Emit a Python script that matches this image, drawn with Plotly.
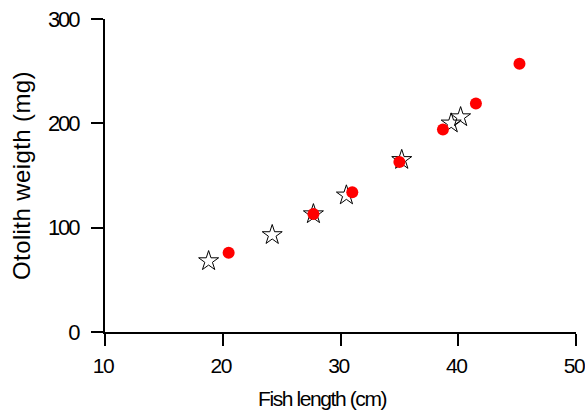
import plotly.graph_objects as go

# Data
star_length = [18.8, 24.2, 27.7, 30.5, 35.2, 39.4, 40.2]
star_weight = [68, 93, 113, 131, 165, 200, 206]
circle_length = [20.5, 27.7, 31.0, 35.0, 38.7, 41.5, 45.2]
circle_weight = [76, 113, 134, 163, 194, 219, 257]

x_ticks = [10, 20, 30, 40, 50]
y_ticks = [0, 100, 200, 300]

FONT = "Liberation Sans, Arial, sans-serif"


def spaced(s, sp):
    return f'<span style="letter-spacing:{sp}">{s}</span>'


fig = go.Figure()
fig.add_trace(go.Scatter(
    x=star_length, y=star_weight, mode="markers",
    marker=dict(symbol="star-open", size=15, color="black", line=dict(width=1)),
    showlegend=False,
))
fig.add_trace(go.Scatter(
    x=circle_length, y=circle_weight, mode="markers",
    marker=dict(symbol="circle", size=12, color="#ff0000", line=dict(width=0)),
    showlegend=False,
))

axis_common = dict(
    showline=True, linewidth=2, linecolor="black",
    ticks="outside", ticklen=12, tickwidth=2, tickcolor="black",
    showgrid=False, zeroline=False, ticklabeloverflow="allow",
    automargin=False,
)

fig.update_layout(
    width=585, height=412,
    margin=dict(l=105, r=9, t=19, b=80, autoexpand=False),
    paper_bgcolor="white", plot_bgcolor="white",
    xaxis=dict(
        range=[10, 50], tickvals=x_ticks,
        ticktext=[spaced(str(v), "-1.5px") for v in x_ticks],
        ticklabelstandoff=2, ticklabelshift=-2,
        tickfont=dict(family=FONT, size=21, color="black"),
        **axis_common,
    ),
    yaxis=dict(
        range=[0, 300], tickvals=y_ticks,
        ticktext=[spaced(str(v), "-2px") for v in y_ticks],
        ticklabelstandoff=8,
        tickfont=dict(family=FONT, size=22, color="black"),
        title=dict(text=spaced("Otolith weigth (mg)", "0.4px"),
                   font=dict(family=FONT, size=24, color="black"), standoff=10),
        **axis_common,
    ),
    annotations=[dict(
        text=spaced("Fish length (cm)", "-1.4px"),
        xref="paper", yref="paper", x=0.462, y=-0.211,
        xanchor="center", yanchor="middle", showarrow=False,
        font=dict(family=FONT, size=21, color="black"),
    )],
)

fig.write_html("out.html")
